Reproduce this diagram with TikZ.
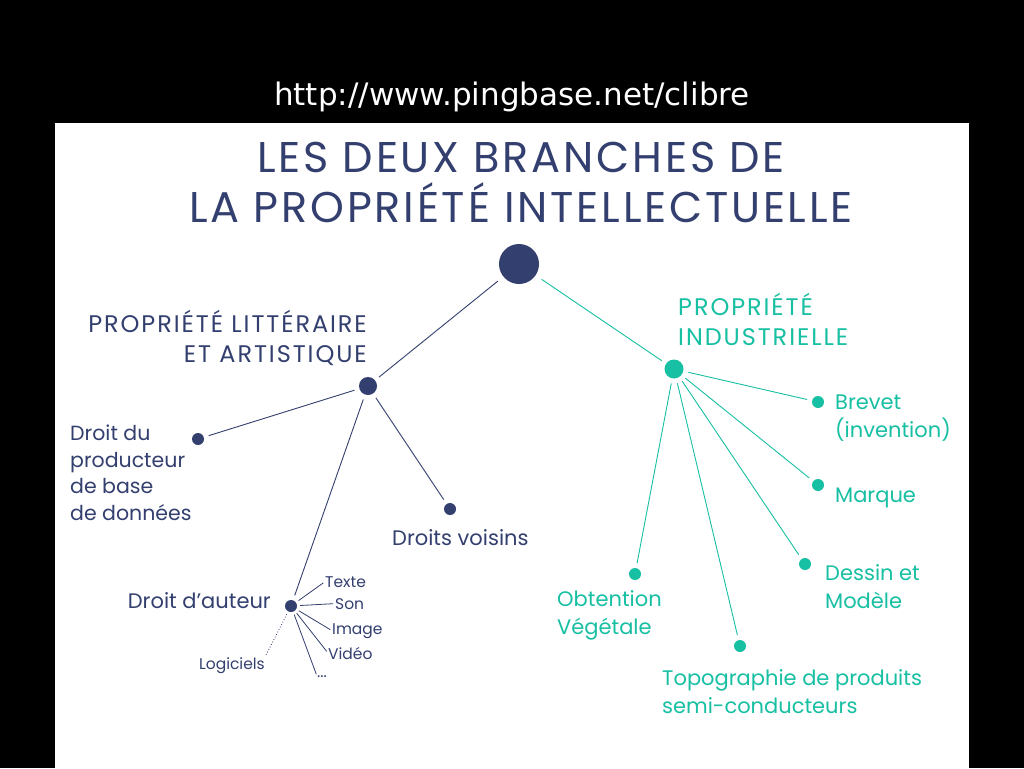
\documentclass[tikz,border=0pt]{standalone}
\usepackage{fontspec}
\setmainfont{Poppins}
\newfontfamily\urlfont{DejaVu Sans}
\definecolor{navy}{HTML}{333F6F}
\definecolor{turq}{HTML}{17BFA3}
\begin{document}
\begin{tikzpicture}[x=1pt,y=-1pt,
    dot/.style={circle,fill=#1,inner sep=0pt},
    link/.style={draw=#1,line width=0.9pt,shorten <=5pt,shorten >=5pt},
    twig/.style={draw=navy,line width=0.8pt,shorten <=3pt,shorten >=2pt},
    lbl/.style={text=#1,font=\fontsize{21}{28}\selectfont,inner sep=0pt},
    head/.style={text=#1,font=\fontsize{24}{30}\selectfont\addfontfeature{LetterSpace=8},inner sep=0pt},
    small/.style={text=navy,font=\fontsize{15.5}{18}\selectfont,inner sep=0pt}]
  \useasboundingbox (0,0) rectangle (1024,768);
  \fill[black] (0,0) rectangle (1024,768);
  \fill[white] (55,123) rectangle (969,768);
  \node[text=white,font=\urlfont\fontsize{31}{34}\selectfont,inner sep=0pt,anchor=base] (url) at (512,105) {http://www.pingbase.net/clibre};
  \node[text=navy,font=\fontsize{43}{50}\selectfont\addfontfeature{LetterSpace=6.5},inner sep=0pt,align=center,anchor=base] (title) at (521,222)
    {LES DEUX BRANCHES DE\\LA PROPRIÉTÉ INTELLECTUELLE};
  % points
  \node[dot=navy,minimum size=40pt] (root) at (519,264) {};
  \node[dot=navy,minimum size=18pt] (hubL) at (368,386) {};
  \node[dot=turq,minimum size=19pt] (hubR) at (674,369) {};
  \foreach \n/\x/\y in {prod/198/439,voisins/450/509,auteur/291/606}
    \node[dot=navy,minimum size=12pt] (\n) at (\x,\y) {};
  \foreach \n/\x/\y in {brevet/818/402,marque/818/485,dessin/805/564,topo/740/646,obt/635/574}
    \node[dot=turq,minimum size=12pt] (\n) at (\x,\y) {};
  % textes (multi-lignes : ligne de base de la derniere ligne)
  \node[head=navy,align=right,anchor=base east] (litt) at (367,362) {PROPRIÉTÉ LITTÉRAIRE\\ET ARTISTIQUE};
  \node[head=turq,align=left,anchor=base west] (indus) at (678,345) {PROPRIÉTÉ\\INDUSTRIELLE};
  \node[lbl=navy,font=\fontsize{20.5}{26.5}\selectfont,align=left,anchor=base west] (tprod) at (70,520) {Droit du\\producteur\\de base\\de données};
  \node[lbl=navy,anchor=base west] (tvoisins) at (392,545) {Droits voisins};
  \node[lbl=navy,anchor=base east] (tauteur) at (271,608) {Droit d’auteur};
  \node[lbl=turq,align=left,anchor=base west] (tbrevet) at (835,437) {Brevet\\(invention)};
  \node[lbl=turq,anchor=base west] (tmarque) at (835,502) {Marque};
  \node[lbl=turq,align=left,anchor=base west] (tdessin) at (825,608) {Dessin et\\Modèle};
  \node[lbl=turq,align=left,anchor=base west] (ttopo) at (662,713) {Topographie de produits\\semi-conducteurs};
  \node[lbl=turq,align=left,anchor=base west] (tobt) at (557,634) {Obtention\\Végétale};
  \node[small,anchor=base west] (texte) at (325,587) {Texte};
  \node[small,anchor=base west] (son) at (335,609) {Son};
  \node[small,anchor=base west] (image) at (332,634) {Image};
  \node[small,anchor=base west] (video) at (328,659) {Vidéo};
  \node[small,anchor=base west] (etc) at (317,677) {...};
  \node[small,anchor=base east] (logi) at (265,669) {Logiciels};
  % branches
  \draw[link=navy,shorten <=7pt] (root) -- (hubL);
  \draw[link=turq,shorten <=7pt] (root) -- (hubR);
  \foreach \n in {prod,voisins,auteur}
    \draw[link=navy] (hubL) -- (\n);
  \foreach \n in {brevet,marque,dessin,topo,obt}
    \draw[link=turq] (hubR) -- (\n);
  \foreach \n in {texte,son,image,video,etc}
    \draw[twig] (auteur) -- (\n.west);
  \draw[twig,dotted] (auteur) -- (logi.north east);
\end{tikzpicture}
\end{document}
